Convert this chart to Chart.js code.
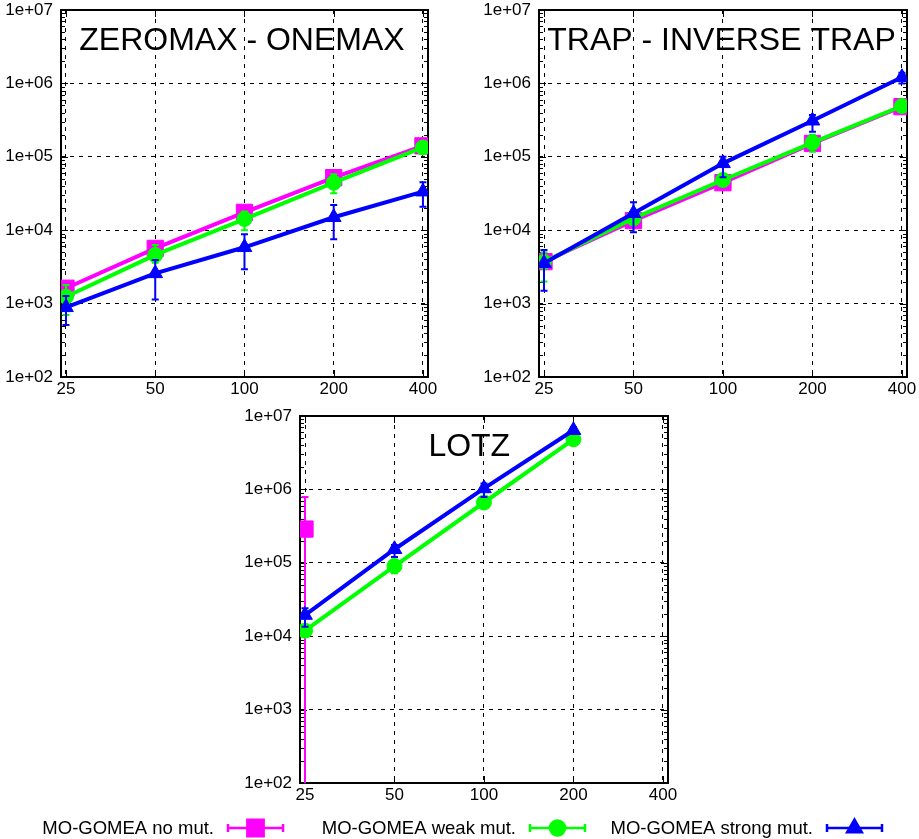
<!DOCTYPE html>
<html>
<head>
<meta charset="utf-8">
<title>MO-GOMEA scalability</title>
<script src="https://cdn.jsdelivr.net/npm/chart.js@4.4.1/dist/chart.umd.min.js"></script>
<style>
  body { margin: 0; background: #fff; width: 919px; height: 839px; position: relative; overflow: hidden; }
  canvas { position: absolute; }
</style>
</head>
<body>
<canvas id="zeroOneChart" width="440" height="400" style="left:0;top:0"></canvas>
<canvas id="trapChart" width="441" height="400" style="left:478px;top:0"></canvas>
<canvas id="lotzChart" width="919" height="433" style="left:0;top:406px"></canvas>
<script>
// problem sizes on the x axis, decades on the y axis
const problemSizes = [25, 50, 100, 200, 400];
const yTickValues = [1e2, 1e3, 1e4, 1e5, 1e6, 1e7];
const seriesLabels = ['MO-GOMEA no mut.', 'MO-GOMEA weak mut.', 'MO-GOMEA strong mut.'];

// ZEROMAX - ONEMAX
const zoNoMut = [1620, 5650, 17500, 52000, 141000];
const zoNoMutErr = [[1350, 1900], [4900, 6400], [15500, 19500], [46000, 58000], [128000, 156000]];
const zoWeakMut = [1240, 4600, 14200, 44400, 134000];
const zoWeakMutErr = [[700, 1790], [3600, 6300], [10000, 18000], [31800, 58000], [112000, 158000]];
const zoStrongMut = [890, 2580, 5850, 15000, 33500];
const zoStrongMutErr = [[510, 1270], [1140, 3930], [2930, 8790], [7500, 22000], [20900, 44900]];

// TRAP - INVERSE TRAP
const trNoMut = [3730, 13500, 44400, 152000, 482000];
const trNoMutErr = [[3100, 4400], [11500, 15800], [38000, 52000], [130000, 178000], [420000, 550000]];
const trWeakMut = [3700, 14500, 48300, 156000, 492000];
const trWeakMutErr = [[2000, 5000], [12000, 17500], [42000, 56000], [117000, 200000], [440000, 550000]];
const trStrongMut = [3540, 17000, 81500, 310000, 1210000];
const trStrongMutErr = [[1500, 5370], [9350, 24000], [52500, 100500], [220000, 371000], [1000000, 1400000]];

// LOTZ (no-mutation run only finished for n = 25)
const lotzNoMut = [288000, null, null, null, null];
const lotzNoMutErr = [[10, 790000], null, null, null, null];
const lotzWeakMut = [11900, 90200, 663000, 4820000, null];
const lotzWeakMutErr = [[10000, 14000], [72000, 110000], [600000, 730000], [4300000, 5400000], null];
const lotzStrongMut = [19400, 153000, 1030000, 6390000, null];
const lotzStrongMutErr = [[13500, 24000], [120000, 175000], [790000, 1200000], [5800000, 7000000], null];

const seriesStyles = [
    { color: '#ff00ff', pointStyle: 'rect', radius: 11.5 },
    { color: '#00ff00', pointStyle: 'circle', radius: 7.5 },
    { color: '#0000ff', pointStyle: 'triangle', radius: 8.5 },
];

Chart.defaults.font.family = "'Liberation Sans', Arial, sans-serif";
Chart.defaults.color = '#000';

function makeDataset(index, values, errors) {
    const style = seriesStyles[index];
    return {
        label: seriesLabels[index],
        data: problemSizes.map((x, i) => ({ x, y: values[i] })),
        errorBars: errors,
        borderColor: style.color,
        backgroundColor: style.color,
        borderWidth: 4,
        pointStyle: style.pointStyle,
        pointRadius: style.radius,
        pointHoverRadius: style.radius,
        pointBorderWidth: 1,
        // blue on top, magenta at the bottom
        order: 2 - index,
    };
}

function drawErrorBar(ctx, x, y0, y1, cap) {
    ctx.beginPath();
    ctx.moveTo(x, y0);
    ctx.lineTo(x, y1);
    ctx.moveTo(x - cap, y0);
    ctx.lineTo(x + cap, y0);
    ctx.moveTo(x - cap, y1);
    ctx.lineTo(x + cap, y1);
    ctx.stroke();
}

const errorBarPlugin = {
    id: 'errorBars',
    afterDatasetDraw(chart, args) {
        const ds = chart.data.datasets[args.index];
        if (!ds.errorBars) return;
        const { ctx, chartArea, scales } = chart;
        ctx.save();
        ctx.beginPath();
        ctx.rect(chartArea.left, chartArea.top, chartArea.width, chartArea.height);
        ctx.clip();
        ctx.strokeStyle = ds.borderColor;
        ctx.lineWidth = 2;
        ds.data.forEach((pt, i) => {
            const err = ds.errorBars[i];
            if (!err || pt.y === null) return;
            const x = scales.x.getPixelForValue(pt.x);
            drawErrorBar(ctx, x, scales.y.getPixelForValue(err[0]), scales.y.getPixelForValue(err[1]), 3.5);
        });
        ctx.restore();
    },
};

// gnuplot-like frame with inward tics on all four sides
const framePlugin = {
    id: 'frame',
    beforeDatasetsDraw(chart) {
        const { ctx, chartArea: a, scales } = chart;
        ctx.save();
        ctx.strokeStyle = '#000';
        ctx.lineWidth = 1;
        ctx.beginPath();
        yTickValues.forEach((v) => {
            const y = Math.round(scales.y.getPixelForValue(v)) + 0.5;
            ctx.moveTo(a.left, y); ctx.lineTo(a.left + 7, y);
            ctx.moveTo(a.right, y); ctx.lineTo(a.right - 7, y);
            if (v >= 1e7) return;
            for (let k = 2; k <= 9; k++) {
                const ym = Math.round(scales.y.getPixelForValue(v * k)) + 0.5;
                ctx.moveTo(a.left, ym); ctx.lineTo(a.left + 4, ym);
                ctx.moveTo(a.right, ym); ctx.lineTo(a.right - 4, ym);
            }
        });
        problemSizes.forEach((v) => {
            const x = Math.round(scales.x.getPixelForValue(v)) + 0.5;
            ctx.moveTo(x, a.bottom); ctx.lineTo(x, a.bottom - 7);
            ctx.moveTo(x, a.top); ctx.lineTo(x, a.top + 7);
        });
        ctx.stroke();
        ctx.lineWidth = 2;
        ctx.strokeRect(a.left, a.top, a.width, a.height);
        ctx.restore();
    },
};

const panelTitlePlugin = {
    id: 'panelTitle',
    afterDatasetsDraw(chart, args, opts) {
        const { ctx, chartArea: a } = chart;
        ctx.save();
        ctx.font = "32px 'Liberation Sans', Arial, sans-serif";
        ctx.fillStyle = '#000';
        ctx.textAlign = 'center';
        ctx.textBaseline = 'alphabetic';
        ctx.fillText(opts.text, a.left + a.width * opts.xFrac, a.top + 40);
        ctx.restore();
    },
};

// legend row under the bottom panel: label, then an error-bar sample with its marker
const legendPlugin = {
    id: 'errorLegend',
    afterDraw(chart, args, opts) {
        if (!opts.samples) return;
        const { ctx } = chart;
        ctx.save();
        ctx.font = "18.5px 'Liberation Sans', Arial, sans-serif";
        ctx.textAlign = 'right';
        ctx.textBaseline = 'alphabetic';
        opts.samples.forEach((s, i) => {
            const style = seriesStyles[i];
            ctx.fillStyle = '#000';
            ctx.fillText(seriesLabels[i], s.x1 - 14, opts.y + 5.5);
            ctx.strokeStyle = style.color;
            ctx.lineWidth = 2.5;
            ctx.beginPath();
            ctx.moveTo(s.x1, opts.y); ctx.lineTo(s.x2, opts.y);
            ctx.moveTo(s.x1, opts.y - 4); ctx.lineTo(s.x1, opts.y + 4);
            ctx.moveTo(s.x2, opts.y - 4); ctx.lineTo(s.x2, opts.y + 4);
            ctx.stroke();
            ctx.fillStyle = style.color;
            Chart.helpers.drawPoint(ctx, {
                pointStyle: style.pointStyle,
                radius: style.radius,
                rotation: 0,
                borderWidth: 1,
            }, (s.x1 + s.x2) / 2, opts.y);
        });
        ctx.restore();
    },
};

function createPanel(canvasId, title, titleX, datasets, padding, legend) {
    const ctx = document.getElementById(canvasId).getContext('2d');
    return new Chart(ctx, {
        type: 'line',
        data: { datasets },
        options: {
            responsive: false,
            animation: false,
            layout: { padding, autoPadding: false },
            plugins: {
                legend: { display: false },
                tooltip: { enabled: false },
                title: { display: false },
                panelTitle: { text: title, xFrac: titleX },
                errorLegend: legend || {},
            },
            scales: {
                x: {
                    type: 'logarithmic',
                    min: 24.05,
                    max: 416,
                    afterBuildTicks: (scale) => {
                        scale.ticks = problemSizes.map((value) => ({ value }));
                    },
                    afterFit: (scale) => {
                        scale.height = 23;
                        scale.paddingLeft = 0;
                        scale.paddingRight = 0;
                    },
                    ticks: {
                        font: { size: 17 },
                        padding: 2,
                        maxRotation: 0,
                        autoSkip: false,
                        callback: (value) => String(value),
                    },
                    grid: { color: '#000', lineWidth: 1, drawTicks: false },
                    border: { display: false, dash: [4, 5] },
                },
                y: {
                    type: 'logarithmic',
                    min: 1e2,
                    max: 1e7,
                    afterBuildTicks: (scale) => {
                        scale.ticks = yTickValues.map((value) => ({ value }));
                    },
                    afterFit: (scale) => {
                        scale.width = 61;
                        scale.paddingTop = 0;
                        scale.paddingBottom = 0;
                    },
                    ticks: {
                        font: { size: 17 },
                        padding: 8,
                        autoSkip: false,
                        callback: (value) => '1e+' + String(Math.round(Math.log10(value))).padStart(2, '0'),
                    },
                    grid: { color: '#000', lineWidth: 1, drawTicks: false },
                    border: { display: false, dash: [4, 5] },
                },
            },
        },
        plugins: [framePlugin, errorBarPlugin, panelTitlePlugin, legendPlugin],
    });
}

createPanel('zeroOneChart', 'ZEROMAX - ONEMAX', 0.493, [
    makeDataset(0, zoNoMut, zoNoMutErr),
    makeDataset(1, zoWeakMut, zoWeakMutErr),
    makeDataset(2, zoStrongMut, zoStrongMutErr),
], { left: 0, top: 10, right: 12, bottom: 0 });

createPanel('trapChart', 'TRAP - INVERSE TRAP', 0.496, [
    makeDataset(0, trNoMut, trNoMutErr),
    makeDataset(1, trWeakMut, trWeakMutErr),
    makeDataset(2, trStrongMut, trStrongMutErr),
], { left: 0, top: 10, right: 12, bottom: 0 });

createPanel('lotzChart', 'LOTZ', 0.46, [
    makeDataset(0, lotzNoMut, lotzNoMutErr),
    makeDataset(1, lotzWeakMut, lotzWeakMutErr),
    makeDataset(2, lotzStrongMut, lotzStrongMutErr),
], { left: 239, top: 10, right: 251, bottom: 33 }, {
    y: 422,
    samples: [
        { x1: 228, x2: 283 },
        { x1: 530, x2: 585 },
        { x1: 827, x2: 882 },
    ],
});
</script>
</body>
</html>
